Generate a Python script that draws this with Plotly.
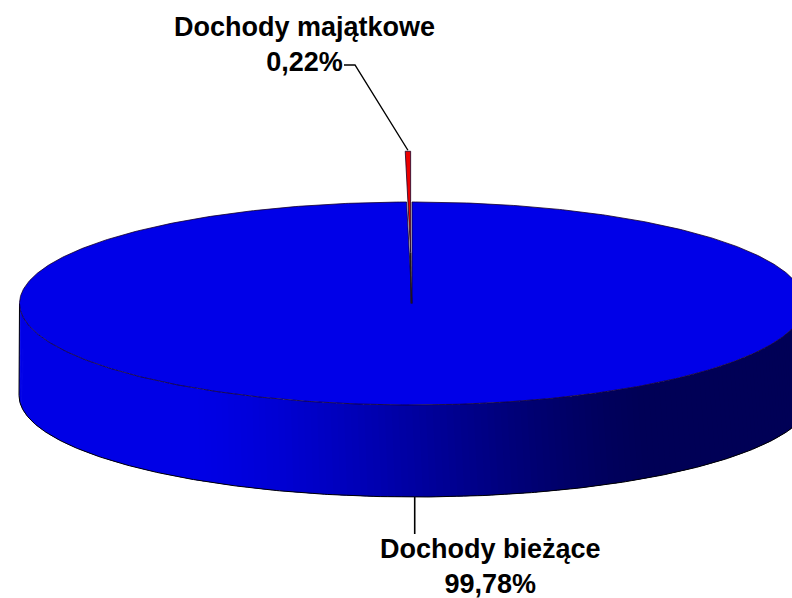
import numpy as np
import plotly.graph_objects as go

# ---- data ----
categories = ["Dochody bieżące", "Dochody majątkowe"]
values = [99.78, 0.22]
explode = [0.0, 0.5]
top_colors = ["rgb(0,0,232)", "rgb(235,0,0)"]

# ---- geometry of the 3D pie (pixel space) ----
CX, CY = 412.0, 303.5    # centre of top ellipse
A, B = 392.5, 101.5      # semi axes of top ellipse
CXB, AB = 416.0, 397.0   # bottom ellipse (slight perspective)
H = 92.0                 # depth of the side

total = float(sum(values))
spans = []
start = 90.0
for v in values:
    sweep = 360.0 * v / total
    spans.append((start, start - sweep))  # clockwise from 12 o'clock
    start -= sweep


def proj(r, phi, dx=0.0, dy=0.0):
    p = np.radians(phi)
    return CX + dx + A * r * np.cos(p), CY + dy - B * r * np.sin(p)


def proj_bottom(phi):
    p = np.radians(phi)
    return CXB + AB * np.cos(p), CY + H - B * np.sin(p)


def side_color(x):
    t = (x - 20.0) / 772.0
    if t < 0.23:
        bl = 230
    elif t < 0.80:
        u = (t - 0.23) / (0.80 - 0.23)
        s = u * u * (3 - 2 * u) * 0.5 + u * 0.5
        bl = 230 - (230 - 86) * s
    else:
        bl = 86
    return f"rgb(0,0,{int(round(bl))})"


fig = go.Figure()

# side face of the main slice (visible front half)
s0, s1 = spans[0]
lo, hi = max(min(s0, s1), -180.0), min(max(s0, s1), 0.0)
n = 180
edges = np.linspace(lo, hi, n + 1)
step = edges[1] - edges[0]
for p1, p2 in zip(edges[:-1], edges[1:]):
    p2e = min(p2 + step * 0.8, hi)
    ph = np.linspace(p1, p2e, 5)
    xt, yt = proj(1, ph)
    xb, yb = proj_bottom(ph[::-1])
    xs = np.concatenate([xt, xb])
    ys = np.concatenate([yt, yb])
    c = side_color(proj(1, (p1 + p2) / 2)[0])
    fig.add_trace(go.Scatter(x=xs, y=ys, mode="lines", fill="toself",
                             fillcolor=c, line=dict(width=0),
                             hoverinfo="skip", showlegend=False))

# side outlines
ph = np.linspace(-180, 0, 400)
xb, yb = proj_bottom(ph)
fig.add_trace(go.Scatter(x=xb, y=yb, mode="lines", line=dict(color="black", width=1),
                         hoverinfo="skip", showlegend=False))
for edge_phi in (180.0, 0.0):
    x0, y0 = proj(1, edge_phi)
    x1, y1 = proj_bottom(edge_phi)
    fig.add_trace(go.Scatter(x=[x0, x1], y=[y0, y1], mode="lines",
                             line=dict(color="black", width=1),
                             hoverinfo="skip", showlegend=False))

# top faces
for i, (a0, a1) in enumerate(spans):
    mid = (a0 + a1) / 2
    ex = explode[i]
    dx = A * ex * np.cos(np.radians(mid))
    dy = -B * ex * np.sin(np.radians(mid))
    ph = np.linspace(a0, a1, max(3, int(abs(a0 - a1) * 2)))
    xa, ya = proj(1, ph, dx, dy)
    tx, ty = proj(0, 0, dx, dy)
    xs = np.concatenate([[tx], xa, [tx]])
    ys = np.concatenate([[ty], ya, [ty]])
    fig.add_trace(go.Scatter(x=xs, y=ys, mode="lines", fill="toself",
                             fillcolor=top_colors[i],
                             line=dict(color="rgb(20,0,40)", width=0.8),
                             hoverinfo="skip", showlegend=False))
    if ex > 0:
        # cut face of the exploded wedge (seen edge-on)
        fig.add_trace(go.Scatter(x=[tx, tx + 0.6], y=[ty, CY], mode="lines",
                                 line=dict(color="rgb(30,20,30)", width=1.6),
                                 hoverinfo="skip", showlegend=False))

# leader lines
mid1 = sum(spans[1]) / 2
dx1 = A * explode[1] * np.cos(np.radians(mid1))
dy1 = -B * explode[1] * np.sin(np.radians(mid1))
rx, ry = proj(1, mid1, dx1, dy1)
fig.add_trace(go.Scatter(x=[rx, 355, 344], y=[ry - 1, 65, 65], mode="lines",
                         line=dict(color="black", width=1.4),
                         hoverinfo="skip", showlegend=False))
mid0 = sum(spans[0]) / 2
bx, by = proj(1, mid0)
fig.add_trace(go.Scatter(x=[bx, bx], y=[by + H, 534], mode="lines",
                         line=dict(color="black", width=1.6),
                         hoverinfo="skip", showlegend=False))


def pct(v):
    return f"{100 * v / total:.2f}".replace(".", ",") + "%"


font = dict(family="Liberation Sans, Arial, sans-serif", size=27, color="black")
fig.add_annotation(x=304, y=44, xref="x", yref="y", showarrow=False,
                   text=f"<b>{categories[1]}<br>{pct(values[1])}</b>",
                   font=font, align="center", xanchor="center", yanchor="middle")
fig.add_annotation(x=490, y=566, xref="x", yref="y", showarrow=False,
                   text=f"<b>{categories[0]}<br>{pct(values[0])}</b>",
                   font=font, align="center", xanchor="center", yanchor="middle")

fig.update_layout(
    width=792, height=598,
    margin=dict(l=0, r=0, t=0, b=0),
    paper_bgcolor="white", plot_bgcolor="white",
    xaxis=dict(range=[0, 792], visible=False, fixedrange=True),
    yaxis=dict(range=[598, 0], visible=False, fixedrange=True),
    showlegend=False,
)

fig.write_html(
    "out.html",
    config={"displayModeBar": False},
    post_script="document.body.style.margin='0';document.body.style.overflow='hidden';",
)
